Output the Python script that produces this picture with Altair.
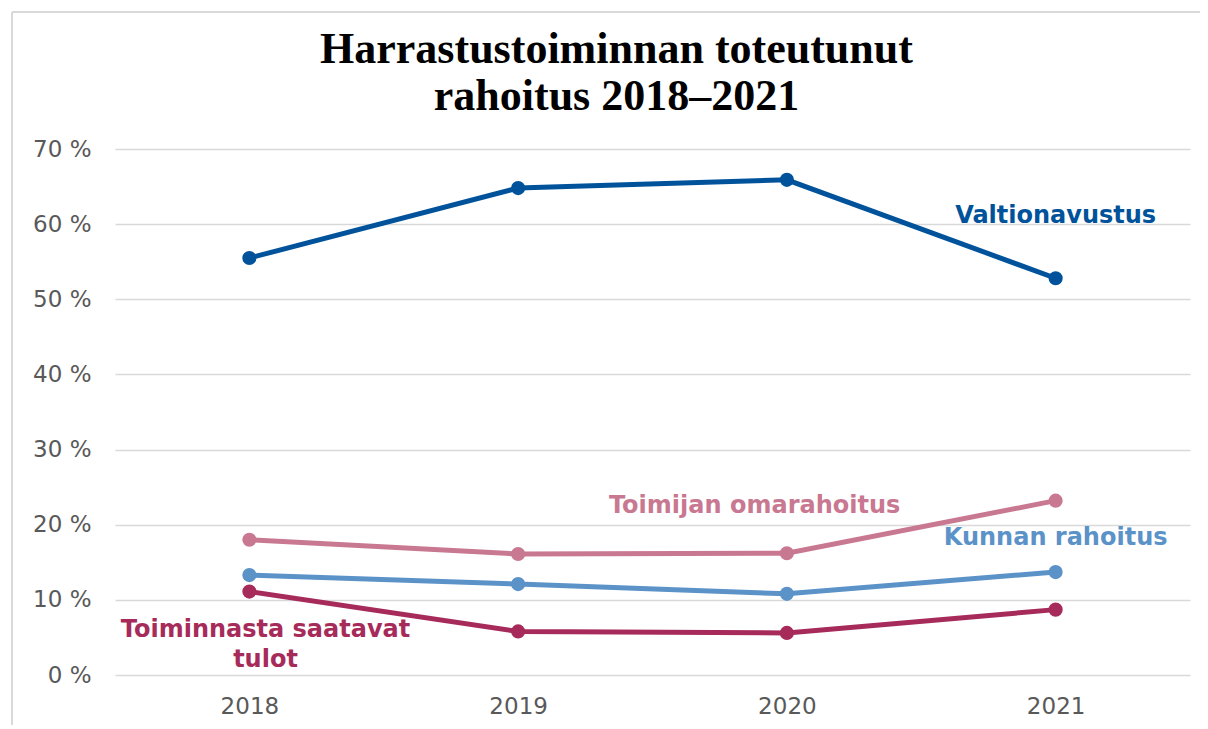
import altair as alt
import pandas as pd

years = [2018, 2019, 2020, 2021]
series_names = ["Valtionavustus", "Toimijan omarahoitus", "Kunnan rahoitus", "Toiminnasta saatavat tulot"]
valtionavustus = [55.5, 64.8, 65.9, 52.8]
omarahoitus = [18.0, 16.1, 16.2, 23.2]
kunnan = [13.3, 12.1, 10.8, 13.7]
toiminnasta = [11.1, 5.8, 5.6, 8.7]
colors = ["#00539B", "#C97891", "#5B92C8", "#A62B5A"]

# label anchors (in data units)
label_text = ["Valtionavustus", "Toimijan omarahoitus", "Kunnan rahoitus", "Toiminnasta saatavat\ntulot"]
label_year = [2021.0, 2019.88, 2021.0, 2018.06]
label_value = [61.1, 22.5, 18.2, 6.0]

rows = []
for name, vals in zip(series_names, [valtionavustus, omarahoitus, kunnan, toiminnasta]):
    for y, v in zip(years, vals):
        rows.append({"series": name, "year": y, "value": v})
df = pd.DataFrame(rows)
labels = pd.DataFrame({"series": series_names, "text": label_text,
                       "year": label_year, "value": label_value})

color_scale = alt.Scale(domain=series_names, range=colors)
x_enc = alt.X("year:Q", scale=alt.Scale(domain=[2017.5, 2021.5], nice=False, zero=False),
              axis=alt.Axis(values=years, format="d", title=None, grid=False, domain=False,
                            ticks=False, labelFontSize=23, labelColor="#595959",
                            labelFont="DejaVu Sans", labelPadding=20))
y_enc = alt.Y("value:Q", scale=alt.Scale(domain=[0, 70], nice=False),
              axis=alt.Axis(values=[0, 10, 20, 30, 40, 50, 60, 70], title=None,
                            labelExpr="datum.value + ' %'", domain=False, ticks=False,
                            gridColor="#D9D9D9", gridWidth=1.5, labelFontSize=23,
                            labelColor="#595959", labelFont="DejaVu Sans", labelPadding=24))

base = alt.Chart(df)
lines = base.mark_line(strokeWidth=5).encode(
    x=x_enc, y=y_enc,
    color=alt.Color("series:N", scale=color_scale, legend=None),
    detail="series:N")
points = base.mark_circle(size=200, opacity=1).encode(
    x="year:Q", y="value:Q",
    color=alt.Color("series:N", scale=color_scale, legend=None))
texts = alt.Chart(labels).mark_text(font="DejaVu Sans", fontWeight="bold", fontSize=24,
                                    align="center", baseline="middle", lineBreak="\n",
                                    lineHeight=30).encode(
    x="year:Q", y="value:Q", text="text:N",
    color=alt.Color("series:N", scale=color_scale, legend=None))

frame_top = alt.Chart(df).mark_rule(color="#D9D9D9", strokeWidth=2).encode(
    x=alt.value(-103), x2=alt.value(1200), y=alt.value(-137))
frame_left = alt.Chart(df).mark_rule(color="#D9D9D9", strokeWidth=2).encode(
    x=alt.value(-103), y=alt.value(-137), y2=alt.value(600))

chart = alt.layer(frame_top, frame_left, lines, points, texts).properties(
    width=1075, height=526,
    title=alt.TitleParams(["Harrastustoiminnan toteutunut", "rahoitus 2018–2021"],
                          font="Liberation Serif", fontSize=44, fontWeight="bold",
                          color="#000000", lineHeight=47, anchor="middle", dx=-36, offset=-108),
    autosize=alt.AutoSizeParams(type="none"),
    padding={"left": 107, "top": 141, "right": 10, "bottom": 50},
).configure(background="white").configure_view(strokeWidth=0)

chart.save("out.html", embed_options={"renderer": "svg", "actions": False})
